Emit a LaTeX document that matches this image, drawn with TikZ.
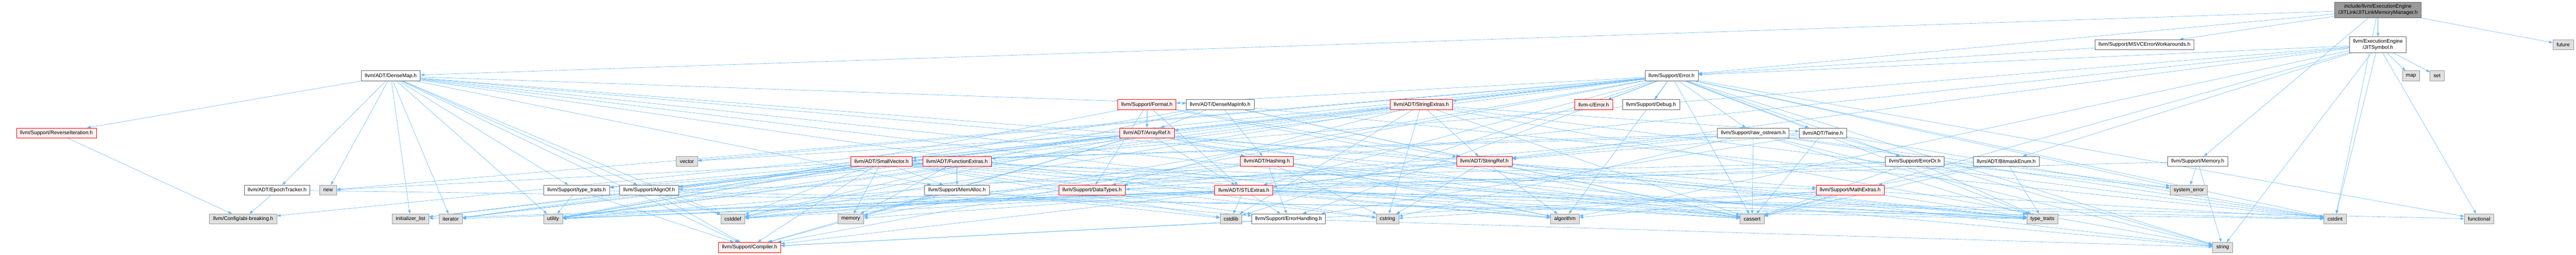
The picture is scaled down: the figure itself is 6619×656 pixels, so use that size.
\documentclass[tikz,border=0pt]{standalone}
\usepackage{fontspec}
\setmainfont{Liberation Sans}
\usetikzlibrary{arrows.meta}
\usetikzlibrary{backgrounds}
\definecolor{depblue}{HTML}{63B8FF}
\definecolor{redline}{HTML}{FF0000}
\definecolor{redfill}{HTML}{FFF0F0}
\definecolor{sysfill}{HTML}{E0E0E0}
\definecolor{sysline}{HTML}{999999}
\definecolor{hdrline}{HTML}{666666}
\newcommand{\rkO}{25.5}
\newcommand{\rkA}{114.9}
\newcommand{\rkB}{195.5}
\newcommand{\rkC}{269.4}
\newcommand{\rkD}{342.5}
\newcommand{\rkE}{415.6}
\newcommand{\rkF}{489.6}
\newcommand{\rkG}{564}
\newcommand{\rkH}{637}

\begin{document}
\begin{tikzpicture}[x=0.75pt, y=-0.75pt,
	box/.style={rectangle, draw, line width=0.75pt, inner xsep=7pt, inner ysep=3pt, minimum height=19.5pt, font=\fontsize{10}{12}\selectfont},
	hdr/.style={box, draw=hdrline, fill=white},
	hdrred/.style={box, draw=redline, fill=redfill},
	sysh/.style={box, draw=sysline, fill=sysfill},
	rootbox/.style={box, draw=hdrline, fill=sysline, align=center, inner ysep=4.5pt},
	dep/.style={draw=depblue, line width=0.6pt, -{Triangle[length=7pt,width=5pt]}}]

		\useasboundingbox (0,0) rectangle (6619,656);
		% Root
		\node[rootbox] (root) at (6110, \rkO) {include/llvm/ExecutionEngine\\/JITLink/JITLinkMemoryManager.h};
		% Rank 1
		\node[hdr] (msvc) at (5510, \rkA) {llvm/Support/MSVCErrorWorkarounds.h};
		\node[hdr, align=center, inner ysep=4.5pt] (jitsym) at (6110, \rkA) {llvm/ExecutionEngine\\/JITSymbol.h};
		\node[sysh] (future) at (6586, \rkA) {future};
		% Rank 2
		\node[hdr] (densemap) at (1004, \rkB) {llvm/ADT/DenseMap.h};
		\node[hdr] (error) at (4295, \rkB) {llvm/Support/Error.h};
		\node[sysh] (map) at (6195, \rkB) {map};
		\node[sysh] (set) at (6262, \rkB) {set};
		% Rank 3
		\node[hdrred] (format) at (2947, \rkC) {llvm/Support/Format.h};
		\node[hdr] (dmapinfo) at (3135, \rkC) {llvm/ADT/DenseMapInfo.h};
		\node[hdrred] (strext) at (3652, \rkC) {llvm/ADT/StringExtras.h};
		\node[hdrred] (cerror) at (4095, \rkC) {llvm-c/Error.h};
		\node[hdr] (debug) at (4242, \rkC) {llvm/Support/Debug.h};
		% Rank 4
		\node[hdrred] (reviter) at (145, \rkD) {llvm/Support/ReverseIteration.h};
		\node[hdrred] (arrayref) at (2947, \rkD) {llvm/ADT/ArrayRef.h};
		\node[hdr] (rawos) at (4505, \rkD) {llvm/Support/raw\_ostream.h};
		\node[hdr] (twine) at (4684, \rkD) {llvm/ADT/Twine.h};
		% Rank 5
		\node[sysh] (vector) at (1765, \rkE) {vector};
		\node[hdrred] (smallvec) at (2265, \rkE) {llvm/ADT/SmallVector.h};
		\node[hdrred] (fnextras) at (2459, \rkE) {llvm/ADT/FunctionExtras.h};
		\node[hdrred] (hashing) at (3255, \rkE) {llvm/ADT/Hashing.h};
		\node[hdrred] (strref) at (3814, \rkE) {llvm/ADT/StringRef.h};
		\node[hdr] (erroror) at (4920, \rkE) {llvm/Support/ErrorOr.h};
		\node[hdr] (bitmask) at (5155, \rkE) {llvm/ADT/BitmaskEnum.h};
		\node[hdr] (memoryh) at (5647, \rkE) {llvm/Support/Memory.h};
		% Rank 6
		\node[hdr] (epoch) at (712, \rkF) {llvm/ADT/EpochTracker.h};
		\node[sysh] (new) at (843, \rkF) {new};
		\node[hdr] (typetraitsh) at (1482, \rkF) {llvm/Support/type\_traits.h};
		\node[hdr] (alignof) at (1668, \rkF) {llvm/Support/AlignOf.h};
		\node[hdr] (memalloc) at (2459, \rkF) {llvm/Support/MemAlloc.h};
		\node[hdrred] (datatypes) at (2806, \rkF) {llvm/Support/DataTypes.h};
		\node[hdrred] (stlextras) at (3196, \rkF) {llvm/ADT/STLExtras.h};
		\node[hdrred] (mathextras) at (4754, \rkF) {llvm/Support/MathExtras.h};
		\node[sysh] (syserror) at (5624, \rkF) {system\_error};
		% Rank 7
		\node[sysh] (abi) at (625, \rkG) {llvm/Config/abi-breaking.h};
		\node[sysh] (initlist) at (1055, \rkG) {initializer\_list};
		\node[sysh] (iterator) at (1158, \rkG) {iterator};
		\node[sysh] (utility) at (1421, \rkG) {utility};
		\node[sysh] (cstddef) at (1883, \rkG) {cstddef};
		\node[sysh] (memory) at (2186, \rkG) {memory};
		\node[sysh] (cstdlib) at (3163, \rkG) {cstdlib};
		\node[hdr] (errhandling) at (3311, \rkG) {llvm/Support/ErrorHandling.h};
		\node[sysh] (cstring) at (3565, \rkG) {cstring};
		\node[sysh] (algorithm) at (4021, \rkG) {algorithm};
		\node[sysh] (cassert) at (4502, \rkG) {cassert};
		\node[sysh] (typetraits) at (5248, \rkG) {type\_traits};
		\node[sysh] (cstdint) at (6000, \rkG) {cstdint};
		\node[sysh] (functional) at (6370, \rkG) {functional};
		% Rank 8
		\node[hdrred] (compiler) at (1926, \rkH) {llvm/Support/Compiler.h};
		\node[sysh] (string) at (5711, \rkH) {string};

		% Includes
		\begin{scope}[on background layer]
		\foreach \t in {densemap,jitsym,error,msvc,memoryh,cstdint,future} \draw[dep] (root) -- (\t);
		\foreach \t in {bitmask,fnextras,strref,error,algorithm,cassert,cstddef,cstdint,functional,map,set,string} \draw[dep] (jitsym) -- (\t);
		\draw[dep] (msvc) -- (error);
		\foreach \t in {dmapinfo,epoch,alignof,compiler,mathextras,memalloc,reviter,typetraitsh,algorithm,cassert,cstddef,cstring,initlist,iterator,new,typetraits,utility} \draw[dep] (densemap) -- (\t);
		\foreach \t in {cerror,stlextras,smallvec,strext,twine,abi,alignof,compiler,debug,errhandling,erroror,format,rawos,algorithm,cassert,cstdint,cstdlib,functional,memory,new,string,syserror,typetraits,utility,vector} \draw[dep] (error) -- (\t);
		\foreach \t in {arrayref,stlextras,strref,datatypes,cassert,utility} \draw[dep] (format) -- (\t);
		\foreach \t in {arrayref,hashing,strref,cassert,cstddef,cstdint,utility} \draw[dep] (dmapinfo) -- (\t);
		\foreach \t in {arrayref,strref,twine,datatypes,cassert,cstddef,cstdint,cstdlib,cstring,iterator,string,utility} \draw[dep] (strext) -- (\t);
		\draw[dep] (reviter) -- (abi);
		\foreach \t in {hashing,smallvec,stlextras,compiler,algorithm,cassert,cstddef,initlist,iterator,memory,typetraits,vector} \draw[dep] (arrayref) -- (\t);
		\foreach \t in {smallvec,strref,cassert,cstddef,cstdint,cstring,string,syserror,typetraits} \draw[dep] (rawos) -- (\t);
		\foreach \t in {smallvec,strref,errhandling,cassert,cstdint,string} \draw[dep] (twine) -- (\t);
		\foreach \t in {alignof,compiler,mathextras,memalloc,typetraitsh,errhandling,algorithm,cassert,cstddef,cstdlib,cstring,initlist,iterator,memory,new,typetraits,utility} \draw[dep] (smallvec) -- (\t);
		\foreach \t in {memalloc,typetraitsh,memory,typetraits,utility} \draw[dep] (fnextras) -- (\t);
		\foreach \t in {datatypes,errhandling,algorithm,cassert,cstring,string,utility} \draw[dep] (hashing) -- (\t);
		\foreach \t in {stlextras,compiler,algorithm,cassert,cstddef,cstring,string,typetraits,utility} \draw[dep] (strref) -- (\t);
		\foreach \t in {alignof,cassert,syserror,typetraits,utility} \draw[dep] (erroror) -- (\t);
		\foreach \t in {mathextras,cassert,typetraits,utility} \draw[dep] (bitmask) -- (\t);
		\foreach \t in {datatypes,syserror,string} \draw[dep] (memoryh) -- (\t);
		\foreach \t in {abi,cstdint} \draw[dep] (epoch) -- (\t);
		\foreach \t in {compiler,typetraits,utility} \draw[dep] (typetraitsh) -- (\t);
		\foreach \t in {compiler,cstddef} \draw[dep] (alignof) -- (\t);
		\foreach \t in {compiler,errhandling,cstdlib} \draw[dep] (memalloc) -- (\t);
		\foreach \t in {errhandling,algorithm,cassert,cstddef,cstdint,cstdlib,functional,initlist,iterator,memory,typetraits,utility} \draw[dep] (stlextras) -- (\t);
		\foreach \t in {compiler,algorithm,cassert,cstdint,cstring,typetraits} \draw[dep] (mathextras) -- (\t);
		\foreach \t in {compiler,string} \draw[dep] (errhandling) -- (\t);
		\end{scope}
	\end{tikzpicture}
\end{document}
